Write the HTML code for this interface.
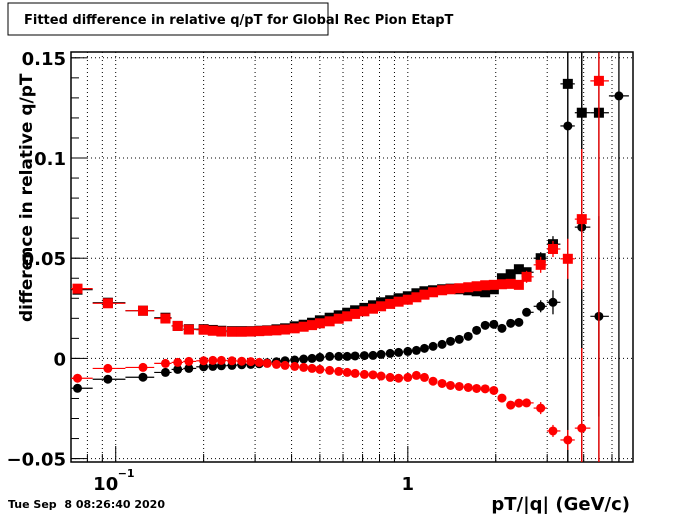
<!DOCTYPE html>
<html><head><meta charset="utf-8"><style>
html,body{margin:0;padding:0;background:#fff;width:700px;height:514px;overflow:hidden;}
svg{display:block;font-family:"DejaVu Sans","Liberation Sans",sans-serif;}
</style></head><body>
<svg id="chart" width="700" height="514" viewBox="0 0 700 514" xmlns="http://www.w3.org/2000/svg">
<rect x="0" y="0" width="700" height="514" fill="#fff"/>
<g>
<rect x="8" y="3" width="320" height="32" fill="#fff" stroke="#000" stroke-width="1"/>
<text x="24" y="24" font-size="13" font-weight="bold">Fitted difference in relative q/pT for Global Rec Pion EtapT</text>
</g>
<g id="grid"></g>
<g id="axes"></g>
<g id="series"></g>
<text transform="translate(32,322) rotate(-90)" font-size="17" font-weight="bold">difference in relative q/pT</text>
<text x="630" y="510" text-anchor="end" font-size="18" font-weight="bold">pT/|q| (GeV/c)</text>
<text x="8" y="508" font-size="11" font-weight="bold" xml:space="preserve">Tue Sep  8 08:26:40 2020</text>
</svg>
<script>
const pt = [0.074,0.094,0.124,0.148,0.163,0.178,
0.20,0.215,0.23,0.25,0.27,0.29,0.31,0.33,0.355,0.38,
0.41,0.44,0.47,0.50,0.54,0.58,0.62,0.66,0.71,0.76,
0.81,0.87,0.93,1.0,1.07,1.14,1.22,1.31,1.40,1.50,
1.61,1.72,1.84,1.97,2.10,2.25,2.40,2.55,2.85,3.14,3.53,3.94,4.51,5.28];
const blackSquares = [0.0343,0.0278,0.0238,0.0203,0.0162,0.0146,
0.0146,0.0142,0.0138,0.0136,0.0136,0.0136,0.0138,0.014,0.0145,0.015,
0.016,0.0168,0.0178,0.019,0.0203,0.0215,0.0228,0.024,0.0252,0.0265,
0.028,0.029,0.03,0.031,0.0325,0.0335,0.034,0.0345,0.0348,0.0345,
0.034,0.0335,0.033,0.0345,0.04,0.042,0.0445,0.043,0.05,0.057,0.137,0.1226,0.1226,null];
const redSquares = [0.0348,0.0275,0.0238,0.0199,0.0162,0.0144,
0.0143,0.0138,0.0134,0.0133,0.0133,0.0134,0.0136,0.0138,0.014,0.0144,
0.015,0.0158,0.0166,0.0175,0.0185,0.0198,0.021,0.0222,0.0235,0.0248,
0.026,0.0272,0.0283,0.0293,0.0305,0.0318,0.033,0.034,0.0345,0.035,
0.0355,0.036,0.0365,0.0367,0.037,0.0372,0.0367,0.0407,0.0467,0.0546,0.0497,0.0695,0.1385,null];
const blackCircles = [-0.0149,-0.0104,-0.0094,-0.007,-0.0055,-0.005,
-0.0042,-0.004,-0.0037,-0.0035,-0.0032,-0.003,-0.0027,-0.0022,-0.0017,-0.0012,
-0.0008,-0.0003,0.0,0.0005,0.001,0.001,0.001,0.0012,0.0014,0.0015,
0.002,0.0025,0.003,0.0035,0.004,0.005,0.006,0.007,0.0085,0.0095,
0.011,0.014,0.0165,0.017,0.015,0.0175,0.018,0.023,0.026,0.028,0.116,0.0655,0.021,0.131];
const redCircles = [-0.0099,-0.005,-0.0045,-0.0025,-0.002,-0.0015,
-0.0012,-0.001,-0.001,-0.0012,-0.0014,-0.0016,-0.002,-0.0025,-0.003,-0.0035,
-0.004,-0.0045,-0.005,-0.0055,-0.006,-0.0065,-0.007,-0.0075,-0.008,-0.0082,
-0.0088,-0.0095,-0.0099,-0.0095,-0.0085,-0.0095,-0.0114,-0.0125,-0.0135,-0.014,
-0.0145,-0.015,-0.0152,-0.016,-0.0198,-0.0233,-0.0223,-0.0222,-0.0248,-0.0362,-0.0407,-0.0348,null,null];
const blackSqErr = [0,0,0,0,0,0, 0,0,0,0,0,0,0,0,0,0, 0,0,0,0,0,0,0,0,0,0, 0,0,0,0,0,0,0,0,0,0, 0,0,0,0,0,0,0.002,0.002,0.003,0.004,0.4,0.4,0.4,0];
const redSqErr = [0,0,0,0,0,0, 0,0,0,0,0,0,0,0,0,0, 0,0,0,0,0,0,0,0,0,0, 0,0,0,0,0,0,0,0,0,0, 0,0,0,0,0,0,0.002,0.003,0.004,0.004,0.01,0.035,0.4,0];
const blackCiErr = [0,0,0,0,0,0, 0,0,0,0,0,0,0,0,0,0, 0,0,0,0,0,0,0,0,0,0, 0,0,0,0,0,0,0,0,0,0, 0,0,0,0,0,0,0.002,0.002,0.003,0.006,0.4,0.2,0.05,0.4];
const redCiErr = [0,0,0,0,0,0, 0,0,0,0,0,0,0,0,0,0, 0,0,0,0,0,0,0,0,0,0, 0,0,0,0,0,0,0,0,0,0, 0,0,0,0,0,0,0.002,0.002,0.003,0.003,0.005,0.04,0,0];
const yTicks = [-0.05,0,0.05,0.1,0.15];
const yTickLabels = ["\u22120.05","0","0.05","0.1","0.15"];

const NS="http://www.w3.org/2000/svg";
const L=71,R=633,T=52,B=462;
const xMin=Math.log10(0.0703), xMax=Math.log10(5.9);
const yMin=-0.0517, yMax=0.1529;
function xs(v){return L+(Math.log10(v)-xMin)/(xMax-xMin)*(R-L);}
function ys(v){return B-(v-yMin)/(yMax-yMin)*(B-T);}
function mk(tag,attrs,parent){const e=document.createElementNS(NS,tag);for(const k in attrs)e.setAttribute(k,attrs[k]);parent.appendChild(e);return e;}
const grid=document.getElementById('grid'),axes=document.getElementById('axes'),ser=document.getElementById('series');
const clipDef=mk('defs',{},ser);
const cp=mk('clipPath',{id:'plotclip'},clipDef);
mk('rect',{x:L,y:T,width:R-L,height:B-T},cp);
const decStarts=[0.01,0.1,1];
decStarts.forEach(d=>{for(let m=1;m<=9;m++){const v=d*m;if(v<0.0703||v>5.9)continue;const x=xs(v);
 const g=mk('line',{x1:x,x2:x,y1:T,y2:B,stroke:'#000','stroke-width':1,'stroke-dasharray':'1,3'},grid);
 
 
 const len=m===1?16:8;
 const t=mk('line',{x1:x,x2:x,y1:B,y2:B-len,stroke:'#000','stroke-width':1},axes);
 
 
}});
yTicks.forEach((v,i)=>{const y=ys(v);
 const g=mk('line',{x1:L,x2:R,y1:y,y2:y,stroke:'#000','stroke-width':1,'stroke-dasharray':'1,3'},grid);
 
 
 const t=mk('line',{x1:L,x2:L+16,y1:y,y2:y,stroke:'#000','stroke-width':1},axes);
 
 
 const lb=mk('text',{x:L-5,y:y+7,'text-anchor':'end','font-size':18,'font-weight':'bold'},axes);
 lb.textContent=yTickLabels[i];
 
 
});
for(let v=-0.05;v<=0.1525;v+=0.01){const y=ys(v);
 const t=mk('line',{x1:L,x2:L+8,y1:y,y2:y,stroke:'#000','stroke-width':1},axes);
 
 
}
const fr=mk('rect',{x:L,y:T,width:R-L,height:B-T,fill:'none',stroke:'#000','stroke-width':1.5},axes);


const xl1=mk('text',{x:xs(0.1)-10,y:490,'text-anchor':'middle','font-size':18,'font-weight':'bold'},axes);
xl1.textContent='10';


const xl1s=mk('text',{x:xs(0.1)+2,y:477,'font-size':11,'font-weight':'bold'},axes);
xl1s.textContent='\u22121';


const xl2=mk('text',{x:xs(1),y:490,'text-anchor':'middle','font-size':18,'font-weight':'bold'},axes);
xl2.textContent='1';


function binEdges(i){const lo=i>0?Math.sqrt(pt[i]*pt[i-1]):pt[0]/Math.sqrt(pt[1]/pt[0]);const hi=i<pt.length-1?Math.sqrt(pt[i]*pt[i+1]):pt[i]*Math.sqrt(pt[i]/pt[i-1]);return [lo,hi];}
function drawSeries(vals,errs,color,shape,name){
 const g=mk('g',{'clip-path':'url(#plotclip)'},ser);
 
 
 vals.forEach((v,i)=>{if(v===null)return;const x=xs(pt[i]),y=ys(v);
  const [lo,hi]=binEdges(i);
  mk('line',{x1:xs(lo),x2:xs(hi),y1:y,y2:y,stroke:color,'stroke-width':1.2},g);
  const e=errs[i];
  if(e>0)mk('line',{x1:x,x2:x,y1:ys(v-e),y2:ys(v+e),stroke:color,'stroke-width':1.3},g);
  let m;
  if(shape==='square'){m=mk('rect',{x:x-5,y:y-5,width:10,height:10,fill:color},g);}
  else{m=mk('circle',{cx:x,cy:y,r:4.5,fill:color},g);}
  
  
 });
}
drawSeries(blackSquares,blackSqErr,'#000','square','black-squares-series');
drawSeries(blackCircles,blackCiErr,'#000','circle','black-circles-series');
drawSeries(redSquares,redSqErr,'#f00','square','red-squares-series');
drawSeries(redCircles,redCiErr,'#f00','circle','red-circles-series');
</script>
</body></html>
